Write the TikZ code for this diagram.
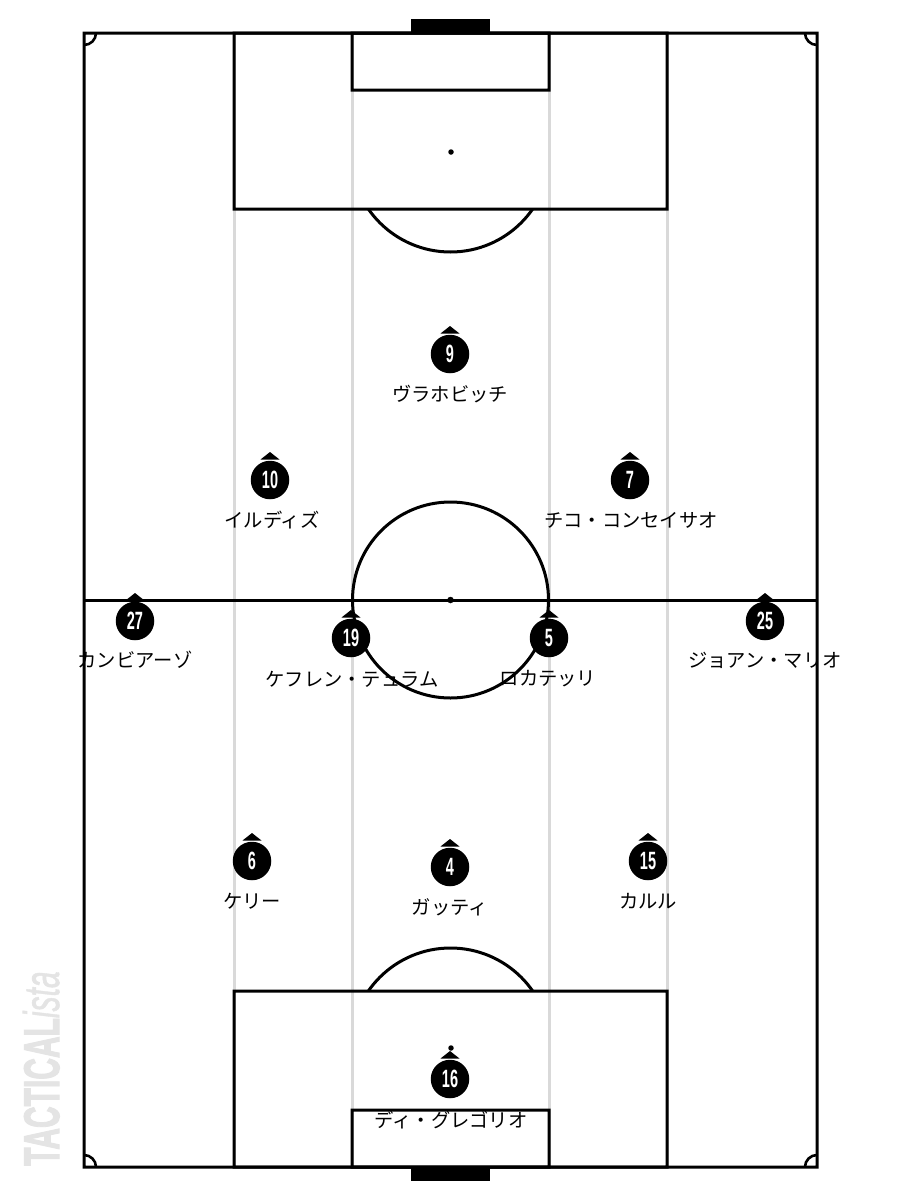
\documentclass[tikz,border=0pt]{standalone}
\usepackage{fontspec}
\newfontfamily\jpfont{Noto Sans CJK JP}
\newfontfamily\numfont{Liberation Sans}
\newfontfamily\brandfont[FakeBold=2.5]{Liberation Sans Bold}
\newfontfamily\brandital[FakeBold=1.2]{Liberation Sans Italic}
\tikzset{
  x=1pt,y=-1pt,
  pitchline/.style={line width=3pt,draw=black},
  cornerline/.style={line width=2.6pt,draw=black},
  spotdot/.style={circle,fill=black,inner sep=0pt,minimum size=5.5pt},
  playerdot/.style={circle,fill=black,text=white,inner sep=0pt,minimum size=38.5pt,font=\numfont\bfseries\fontsize{25}{25}\selectfont},
  playerlabel/.style={text=black,inner sep=0pt,font=\jpfont\fontsize{19.3}{21}\selectfont},
  tickmark/.style={fill=black,draw=none},
  goalbar/.style={fill=black,draw=none}
}
\definecolor{zonegray}{HTML}{D9D9D9}
\definecolor{brandgray}{HTML}{E4E4E4}
\newcommand{\pitchrect}[4]{%
  \fill[black,even odd rule] ({#1-1.5},{#2-1.5}) rectangle ({#3+1.5},{#4+1.5}) ({#1+1.5},{#2+1.5}) rectangle ({#3-1.5},{#4-1.5});}
\newcommand{\playermark}[6]{%
  \node[playerdot] (#1) at (#2,#3) {\scalebox{0.58}[1]{#4}};
  \fill[tickmark] (#2,#3) ++(-9.5,-20.5) -- ++(9.5,-7.5) -- ++(9.5,7.5) -- cycle;
  \node[playerlabel] (#1label) at (#5,#6) {\strut};
}
\newcommand{\playerlab}[2]{\node[playerlabel] at (#1label) {#2};}
\begin{document}
\begin{tikzpicture}
\useasboundingbox (0,0) rectangle (900,1200);
\fill[white] (0,0) rectangle (900,1200);
% zone lines
\foreach \zx in {234,352,549,667} \fill[zonegray] (\zx-1.5,33) rectangle (\zx+1.5,1167);
% goals
\fill[goalbar] (411,19) rectangle (490,33);
\fill[goalbar] (411,1167) rectangle (490,1181);
% pitch
\pitchrect{84}{33}{817}{1167}
\fill[black] (84,598.5) rectangle (817,601.5);
\pitchrect{234}{33}{667}{209}
\pitchrect{234}{991}{667}{1167}
\pitchrect{352}{33}{549}{90}
\pitchrect{352}{1110}{549}{1167}
\draw[pitchline] (450.5,600) circle[radius=98];
% penalty arcs
\begin{scope}
\clip (300,209) rectangle (600,300);
\draw[pitchline] (450.5,152) circle[radius=100];
\end{scope}
\begin{scope}
\clip (300,900) rectangle (600,991);
\draw[pitchline] (450.5,1048) circle[radius=100];
\end{scope}
% corner arcs
\draw[cornerline] (96,33) arc[start angle=0,end angle=90,radius=12];
\draw[cornerline] (805,33) arc[start angle=180,end angle=90,radius=12];
\draw[cornerline] (96,1167) arc[start angle=0,end angle=-90,radius=12];
\draw[cornerline] (805,1167) arc[start angle=180,end angle=270,radius=12];
% spots
\node[spotdot] (spottop) at (451,152) {};
\node[spotdot,minimum size=6.5pt] (spotmid) at (450.5,600) {};
\node[spotdot] (spotbot) at (451,1048) {};
% brand
\node[rotate=90,text=brandgray,inner sep=0pt,anchor=base west,font=\fontsize{50}{50}\selectfont] (brandtext) at (59,1166) {\scalebox{0.6}[1]{{\brandfont TACTICAL}{\brandital ista}}};
% players
\playermark{p9}{450}{354}{9}{450}{394}
\playermark{p10}{270}{480}{10}{272}{520}
\playermark{p7}{630}{480}{7}{631}{520}
\playermark{p27}{135}{621}{27}{135}{660}
\playermark{p19}{351}{638}{19}{352}{679}
\playermark{p5}{549}{638}{5}{548}{679}
\playermark{p25}{765}{621}{25}{765}{660}
\playermark{p6}{252}{861}{6}{252}{901}
\playermark{p4}{450}{867}{4}{450}{907}
\playermark{p15}{648}{861}{15}{648}{901}
\playermark{p16}{450}{1079}{16}{451}{1120}
\playerlab{p9}{ヴラホビッチ}
\playerlab{p10}{イルディズ}
\playerlab{p7}{チコ・コンセイサオ}
\playerlab{p27}{カンビアーゾ}
\playerlab{p19}{ケフレン・テュラム}
\playerlab{p5}{ロカテッリ}
\playerlab{p25}{ジョアン・マリオ}
\playerlab{p6}{ケリー}
\playerlab{p4}{ガッティ}
\playerlab{p15}{カルル}
\playerlab{p16}{ディ・グレゴリオ}
\end{tikzpicture}
\end{document}
